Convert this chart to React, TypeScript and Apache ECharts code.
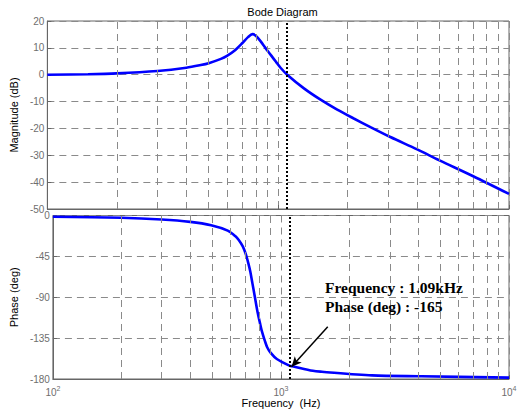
import React, { useEffect, useRef } from "react";
import * as echarts from "echarts";

// ---- data ----
const magFreq = [100, 150, 200, 300, 400, 462, 500, 565, 600, 644, 700, 740, 774, 800, 840, 880, 930, 980, 1026, 1094, 1293, 1526, 1802, 2126, 2510, 3062, 4000, 5000, 7000, 10000];
const magDb = [0, 0.2, 0.5, 1.4, 2.6, 3.6, 4.3, 5.9, 7.0, 8.8, 11.8, 14.0, 15.1, 14.5, 12.4, 10.0, 7.3, 4.7, 2.5, 0, -5.1, -9.3, -13.0, -16.3, -19.5, -23.2, -27.8, -31.9, -37.8, -44.4];

const phaseFreq = [100, 200, 300, 400, 494, 584, 632, 653, 680, 700, 720, 734, 750, 765, 789, 810, 824, 850, 870, 900, 959, 1094, 1123, 1380, 1513, 2510, 4127, 10000];
const phaseDeg = [-1.4, -2.5, -4.4, -7, -10.7, -16.6, -22.9, -27, -34, -42, -53, -62, -75, -87, -106, -119, -127, -138, -145, -151, -158, -165.5, -166, -171, -172, -176, -177, -178.5];

const minorFreqs = [200, 300, 400, 500, 600, 700, 800, 900, 2000, 3000, 4000, 5000, 6000, 7000, 8000, 9000];
const markerFreq = 1090;
const arrowFrom = [1604, -122.4];
const arrowTo = [1113, -166.5];
const annotationLines = ["Frequency : 1.09kHz", "Phase (deg) : -165"];

const FONT = "'Liberation Sans', Arial, sans-serif";
const GRID_COLOR = "#8a8a8a";
const FRAME_COLOR = "#666666";
const LABEL_COLOR = "#6e6e6e";
const DASH = [7, 5];

export default function App() {
  const ref = useRef<HTMLDivElement>(null);

  useEffect(() => {
    if (!ref.current) return;
    const chart = echarts.init(ref.current, undefined, { renderer: "svg" });

    const magData = magFreq.map((f, i) => [f, magDb[i]]);
    const phaseData = phaseFreq.map((f, i) => [f, phaseDeg[i]]);

    const gridLineStyle = { color: GRID_COLOR, type: DASH, width: 1 };
    const minorLines = minorFreqs.map((f) => ({ xAxis: f, lineStyle: gridLineStyle }));
    const dottedLine = { xAxis: markerFreq, lineStyle: { color: "#000", type: [2, 2], width: 2 } };

    const xBase = {
      type: "log",
      logBase: 10,
      min: 100,
      max: 10000,
      axisLine: { show: true, onZero: false, lineStyle: { color: FRAME_COLOR } },
      axisTick: { show: true, inside: true, length: 4, lineStyle: { color: FRAME_COLOR } },
      splitLine: { show: true, lineStyle: gridLineStyle },
    };

    const option = {
      animation: false,
      backgroundColor: "#fff",
      title: {
        text: "Bode Diagram",
        left: 277.5,
        textAlign: "center",
        top: 1,
        textStyle: { fontSize: 11, fontWeight: "normal", color: "#000", fontFamily: FONT },
      },
      grid: [
        { left: 46, right: 11, top: 21, height: 188, show: true, borderColor: FRAME_COLOR, borderWidth: 1 },
        { left: 46, right: 11, top: 215.5, height: 163.5, show: true, borderColor: FRAME_COLOR, borderWidth: 1 },
      ],
      xAxis: [
        { ...xBase, gridIndex: 0, axisLabel: { show: false } },
        {
          ...xBase,
          gridIndex: 1,
          name: "Frequency  (Hz)",
          nameLocation: "middle",
          nameGap: 18,
          nameTextStyle: { fontSize: 11, color: "#000", fontFamily: FONT },
          axisLabel: {
            show: true,
            margin: 6,
            formatter: (v: number) => `{b|10}{s|${Math.round(Math.log10(v))}}`,
            rich: {
              b: { fontSize: 10, color: LABEL_COLOR, fontFamily: FONT },
              s: { fontSize: 7, color: LABEL_COLOR, fontFamily: FONT, padding: [0, 0, 7, 0] },
            },
          },
        },
      ],
      yAxis: [
        {
          type: "value",
          gridIndex: 0,
          min: -50,
          max: 20,
          interval: 10,
          name: "Magnitude (dB)",
          nameLocation: "middle",
          nameGap: 18,
          nameRotate: 90,
          nameTextStyle: { fontSize: 11, color: "#000", fontFamily: FONT },
          axisLine: { show: true, onZero: false, lineStyle: { color: FRAME_COLOR } },
          axisTick: { show: true, inside: true, length: 4, lineStyle: { color: FRAME_COLOR } },
          axisLabel: { fontSize: 10, color: LABEL_COLOR, fontFamily: FONT, margin: 3 },
          splitLine: { show: true, lineStyle: gridLineStyle },
        },
        {
          type: "value",
          gridIndex: 1,
          min: -180,
          max: 0,
          interval: 45,
          name: "Phase (deg)",
          nameLocation: "middle",
          nameGap: 26,
          nameRotate: 90,
          nameTextStyle: { fontSize: 11, color: "#000", fontFamily: FONT },
          axisLine: { show: true, onZero: false, lineStyle: { color: FRAME_COLOR } },
          axisTick: { show: true, inside: true, length: 4, lineStyle: { color: FRAME_COLOR } },
          axisLabel: { fontSize: 10, color: LABEL_COLOR, fontFamily: FONT, margin: 3 },
          splitLine: { show: true, lineStyle: gridLineStyle },
        },
      ],
      series: [
        // helper series carrying the minor grid lines (below the curves)
        {
          type: "line",
          xAxisIndex: 0,
          yAxisIndex: 0,
          data: magData,
          showSymbol: false,
          silent: true,
          z: 1,
          lineStyle: { opacity: 0 },
          markLine: { silent: true, symbol: "none", label: { show: false }, data: minorLines },
        },
        {
          type: "line",
          xAxisIndex: 1,
          yAxisIndex: 1,
          data: phaseData,
          showSymbol: false,
          silent: true,
          z: 1,
          lineStyle: { opacity: 0 },
          markLine: { silent: true, symbol: "none", label: { show: false }, data: minorLines },
        },
        {
          type: "line",
          name: "Magnitude",
          xAxisIndex: 0,
          yAxisIndex: 0,
          data: magData,
          showSymbol: false,
          smooth: 0.3,
          z: 3,
          lineStyle: { color: "#0000ff", width: 2.6 },
          markLine: { silent: true, symbol: "none", label: { show: false }, data: [dottedLine] },
        },
        {
          type: "line",
          name: "Phase",
          xAxisIndex: 1,
          yAxisIndex: 1,
          data: phaseData,
          showSymbol: false,
          smooth: 0.3,
          z: 3,
          lineStyle: { color: "#0000ff", width: 2.6 },
          markLine: {
            silent: true,
            symbol: "none",
            label: { show: false },
            data: [
              dottedLine,
              [
                { coord: arrowFrom, symbol: "none" },
                { coord: arrowTo, symbol: "arrow", symbolSize: [7, 10], lineStyle: { color: "#000", width: 1.5, type: "solid" } },
              ],
            ],
          },
        },
      ],
      graphic: [
        {
          type: "text",
          left: 325,
          top: 278,
          z: 10,
          style: {
            text: annotationLines.join("\n"),
            fontSize: 15.5,
            fontWeight: "bold",
            fontFamily: "'Liberation Serif', 'Times New Roman', serif",
            fill: "#000",
            lineHeight: 19,
          },
        },
      ],
    };

    chart.setOption(option as any);
    return () => chart.dispose();
  }, []);

  return (
    <div
      ref={ref}
      style={{ position: "absolute", left: 0, top: 0, width: 520, height: 414, background: "#fff" }}
    />
  );
}
